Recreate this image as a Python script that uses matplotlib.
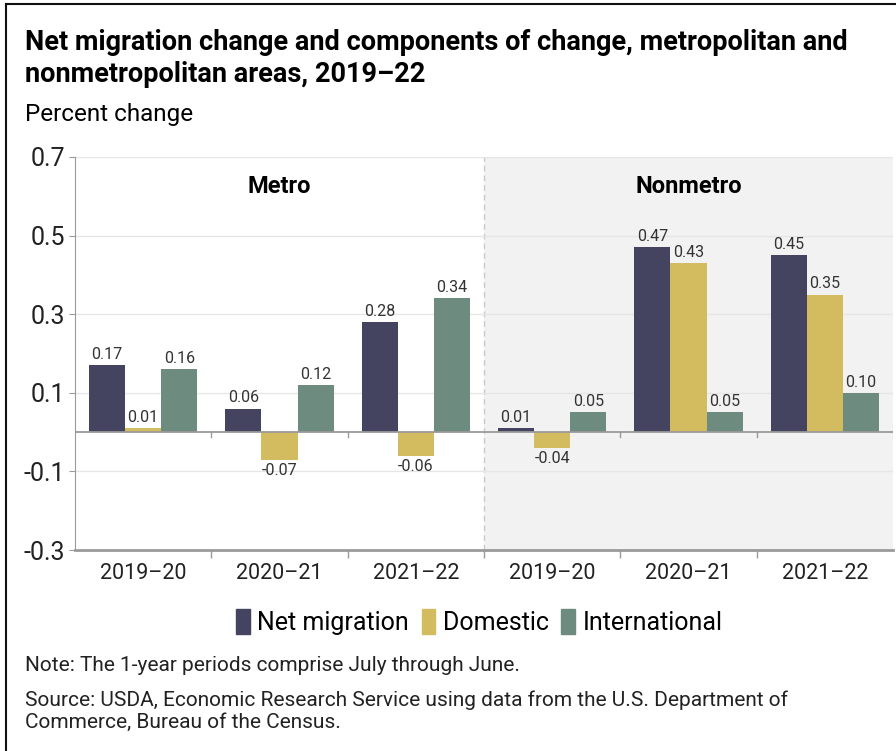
import numpy as np
import matplotlib
matplotlib.use("Agg")
import matplotlib.pyplot as plt
from matplotlib.lines import Line2D
from matplotlib.patches import Patch

plt.rcParams['font.family'] = ['Roboto', 'DejaVu Sans']

periods = ['2019–20', '2020–21', '2021–22', '2019–20', '2020–21', '2021–22']
net_migration = [0.17, 0.06, 0.28, 0.01, 0.47, 0.45]
domestic = [0.01, -0.07, -0.06, -0.04, 0.43, 0.35]
international = [0.16, 0.12, 0.34, 0.05, 0.05, 0.10]
series_names = ['Net migration', 'Domestic', 'International']
colors = ['#444460', '#d3bc5f', '#6d8b7f']
yticks = [0.7, 0.5, 0.3, 0.1, -0.1, -0.3]

fig = plt.figure(figsize=(8.96, 7.51), dpi=100)
ax = fig.add_axes([0.0837, 0.2676, 0.9130, 0.5234])

x = np.arange(len(periods))
w = 0.265
ax.set_xlim(-0.5, 5.5)
ax.set_ylim(-0.3, 0.7)

# shaded nonmetro panel
ax.axvspan(2.5, 5.5, color='#f2f2f2', zorder=0, lw=0)
ax.axvline(2.5, color='#c8c8c8', lw=1, ls=(0, (4, 3)), zorder=1)

for yv in [0.7, 0.5, 0.3, 0.1, -0.1]:
    ax.axhline(yv, color='#e6e6e6', lw=1, zorder=1)
ax.axhline(0, color='#9a9a9a', lw=1.3, zorder=3)

for i, (vals, c) in enumerate(zip([net_migration, domestic, international], colors)):
    pos = x + (i - 1) * w
    ax.bar(pos, vals, width=w, color=c, zorder=2, label=series_names[i])
    for px, v in zip(pos, vals):
        if v >= 0:
            ax.text(px, v + 0.008, f'{v:.2f}', ha='center', va='bottom',
                    fontsize=11.5, color='#333333')
        else:
            ax.text(px, v - 0.008, f'{v:.2f}', ha='center', va='top',
                    fontsize=11.5, color='#333333')

# small ticks on the zero line at group boundaries
for b in [0.5, 1.5, 3.5, 4.5]:
    ax.plot([b, b], [0, -0.012], color='#9a9a9a', lw=1, zorder=3)

ax.text(1, 0.625, 'Metro', ha='center', va='center', fontsize=17, fontweight='bold')
ax.text(4, 0.625, 'Nonmetro', ha='center', va='center', fontsize=17, fontweight='bold')

ax.set_yticks(yticks)
ax.set_yticklabels([f'{t:.1f}' for t in yticks], fontsize=18, color='#222222')
ax.set_xticks(x)
ax.set_xticklabels(periods, fontsize=15.5, color='#222222')
ax.set_xticks(np.arange(0.5, 5.5, 1), minor=True)
ax.tick_params(axis='x', which='major', length=0, pad=9)
ax.tick_params(axis='x', which='minor', length=6, color='#9a9a9a', width=1)
ax.tick_params(axis='y', length=4, color='#9a9a9a', pad=3)

for s in ['top', 'right']:
    ax.spines[s].set_visible(False)
ax.spines['left'].set_color('#9a9a9a')
ax.spines['bottom'].set_color('#9a9a9a')
ax.spines['bottom'].set_linewidth(2)

handles = [Patch(color=c) for c in colors]
fig.legend(handles, series_names, loc='center', bbox_to_anchor=(0.535, 0.172),
           ncol=3, frameon=False, fontsize=18, handlelength=0.55, handleheight=1.2,
           handletextpad=0.3, columnspacing=0.5)

fig.text(0.028, 0.962, 'Net migration change and components of change, metropolitan and\nnonmetropolitan areas, 2019–22',
         ha='left', va='top', fontsize=19.5, fontweight='bold', linespacing=1.25)
fig.text(0.028, 0.848, 'Percent change', ha='left', va='center', fontsize=17.5)
fig.text(0.028, 0.114, 'Note: The 1-year periods comprise July through June.',
         ha='left', va='center', fontsize=15, color='#222222')
fig.text(0.028, 0.053, 'Source: USDA, Economic Research Service using data from the U.S. Department of\nCommerce, Bureau of the Census.',
         ha='left', va='center', fontsize=15, color='#222222', linespacing=1.25)

# frame edges visible in the reference
fig.add_artist(Line2D([0.007, 0.007], [0, 0.995], transform=fig.transFigure, color='#111111', lw=1.5))
fig.add_artist(Line2D([0.007, 1], [0.995, 0.995], transform=fig.transFigure, color='#111111', lw=1.5))

fig.savefig('out.png', dpi=100)
